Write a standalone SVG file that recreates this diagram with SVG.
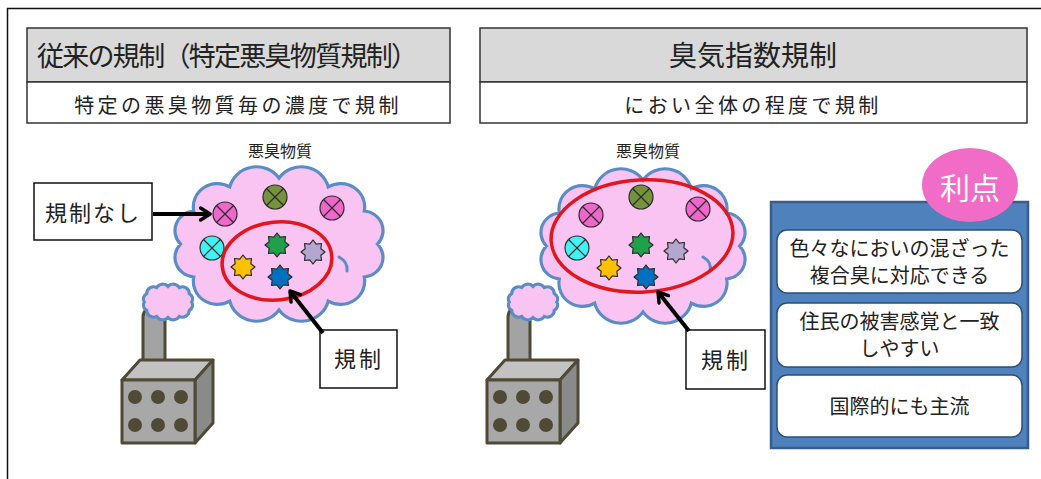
<svg xmlns="http://www.w3.org/2000/svg" xmlns:xlink="http://www.w3.org/1999/xlink" width="1041" height="479" viewBox="0 0 1041 479">
  <style>
    .jp { font-family: "Noto Sans CJK JP", "Noto Sans", sans-serif; fill: #222; }
    .frame { fill: none; stroke: #111; stroke-width: 1.5; }
    .hdr { fill: #d9d9d9; stroke: #333; stroke-width: 1.5; }
    .sub { fill: #fff; stroke: #333; stroke-width: 1.5; }
    .label { fill: #fff; stroke: #111; stroke-width: 1.5; }
    .cloud { fill: #f9c4f1; stroke: #5a8cc6; stroke-width: 3; }
    .stub { fill: none; stroke: #5a8cc6; stroke-width: 3; stroke-linecap: round; }
    .ring { fill: none; stroke: #e3151d; stroke-width: 3.5; }
    .arrow { fill: none; stroke: #000; stroke-width: 4; marker-end: url(#head); }
    .plant { stroke: #4f4a36; stroke-width: 3; stroke-linejoin: round; }
    .panel { fill: #4f81bd; stroke: #385d8a; stroke-width: 2.5; }
    .card { fill: #fff; stroke: #2f4f7a; stroke-width: 1.5; }
  </style>
  <defs>
    <marker id="head" viewBox="0 0 12 12" refX="9" refY="6" markerWidth="4" markerHeight="4" orient="auto" markerUnits="strokeWidth">
      <path d="M2,1.5 L9,6 L2,10.5" fill="none" stroke="#000" stroke-width="2.6" stroke-linecap="round" stroke-linejoin="round"/>
    </marker>
    <!-- scalloped cloud, centred on 0,0 -->
    <path id="cloudShape" d="M92,0 A19,19 0 0 1 79.7,32 A22.5,22.5 0 0 1 46,55.4 A25.7,25.7 0 0 1 0,64 A25.7,25.7 0 0 1 -46,55.4 A22.5,22.5 0 0 1 -79.7,32 A19,19 0 0 1 -92,0 A19,19 0 0 1 -79.7,-32 A22.5,22.5 0 0 1 -46,-55.4 A25.7,25.7 0 0 1 0,-64 A25.7,25.7 0 0 1 46,-55.4 A22.5,22.5 0 0 1 79.7,-32 A19,19 0 0 1 92,0 Z"/>
    <!-- small puff of smoke -->
    <path id="puff" d="M19,0 A5,5 0 0 1 17,7 A5.5,5.5 0 0 1 9,12 A5.5,5.5 0 0 1 0,13 A5.5,5.5 0 0 1 -9,12 A5.5,5.5 0 0 1 -17,7 A5,5 0 0 1 -19,0 A5,5 0 0 1 -17,-7 A5.5,5.5 0 0 1 -9,-12 A5.5,5.5 0 0 1 0,-13 A5.5,5.5 0 0 1 9,-12 A5.5,5.5 0 0 1 17,-7 A5,5 0 0 1 19,0 Z"/>
    <!-- odour molecule: circle with a cross -->
    <g id="xmol">
      <circle r="12" stroke="#2b2b2b" stroke-width="1.2"/>
      <path d="M-8.5,-8.5 L8.5,8.5 M-8.5,8.5 L8.5,-8.5" stroke="#2b2b2b" stroke-width="1.2"/>
    </g>
    <!-- specified odour substance: 8-point star -->
    <polygon id="star" points="0,-12 3.25,-7.85 8.49,-8.49 7.85,-3.25 12,0 7.85,3.25 8.49,8.49 3.25,7.85 0,12 -3.25,7.85 -8.49,8.49 -7.85,3.25 -12,0 -7.85,-3.25 -8.49,-8.49 -3.25,-7.85" stroke="#2b2b2b" stroke-width="1.2" stroke-linejoin="round"/>
    <!-- factory with chimney -->
    <g id="factory">
      <rect x="143" y="306" width="22" height="72" rx="11" fill="#a3a3a3" class="plant"/>
      <polygon points="122,380 140,360 213,360 195,380" fill="#c2c2c2" class="plant"/>
      <polygon points="195,380 213,360 213,423 195,443" fill="#8a8a8a" class="plant"/>
      <rect x="122" y="380" width="73" height="63" fill="#a8a8a8" class="plant"/>
      <g fill="#4f4a36">
        <circle cx="135" cy="397" r="7"/><circle cx="158" cy="397" r="7"/><circle cx="181" cy="397" r="7"/>
        <circle cx="135" cy="425" r="7"/><circle cx="158" cy="425" r="7"/><circle cx="181" cy="425" r="7"/>
      </g>
    </g>
  </defs>

  <rect x="7.5" y="8.5" width="1040" height="480" class="frame"/>

  <!-- left column: conventional regulation -->
  <g id="left-header">
    <rect x="27" y="28" width="423" height="54" class="hdr"/>
    <rect x="27" y="82" width="423" height="41" class="sub"/>
    <text x="37" y="66" class="jp" font-size="27" textLength="381" lengthAdjust="spacing">従来の規制（特定悪臭物質規制）</text>
    <text x="238" y="113" class="jp" font-size="20" text-anchor="middle" letter-spacing="3.4">特定の悪臭物質毎の濃度で規制</text>
  </g>

  <g id="left-factory">
    <use xlink:href="#factory"/>
    <use xlink:href="#puff" class="cloud" transform="translate(168,302) scale(1.25,1.2)" style="stroke-width:2.5"/>
  </g>

  <g id="left-cloud">
    <use xlink:href="#cloudShape" class="cloud" transform="translate(279,244) scale(1.07,1.03)"/>
    <path d="M339,257 Q348,262 347,271" class="stub"/>
    <text x="280" y="157" class="jp" font-size="16" text-anchor="middle">悪臭物質</text>
    <use xlink:href="#xmol" x="225" y="214" fill="#f067cb"/>
    <use xlink:href="#xmol" x="275" y="197" fill="#76923c"/>
    <use xlink:href="#xmol" x="332" y="208" fill="#f067cb"/>
    <use xlink:href="#xmol" x="212" y="248" fill="#3ff3f3"/>
    <use xlink:href="#star" x="277" y="245" fill="#1fa04a"/>
    <use xlink:href="#star" x="313" y="252" fill="#b3a6cf"/>
    <use xlink:href="#star" x="243" y="267" fill="#ffc000"/>
    <use xlink:href="#star" x="280" y="277" fill="#0070c0"/>
    <ellipse cx="277" cy="261" rx="55" ry="39" class="ring" transform="rotate(-6 277 261)"/>
  </g>

  <g id="left-none-label">
    <rect x="34" y="183" width="118" height="57" class="label"/>
    <text x="93" y="221" class="jp" font-size="22" text-anchor="middle" letter-spacing="2">規制なし</text>
  </g>

  <g id="left-reg-label">
    <rect x="320" y="330" width="77" height="58" class="label"/>
    <text x="359" y="367" class="jp" font-size="22" text-anchor="middle" letter-spacing="3">規制</text>
  </g>

  <!-- right column: odour index regulation -->
  <g id="right-header">
    <rect x="480" y="28" width="547" height="54" class="hdr"/>
    <rect x="480" y="82" width="547" height="41" class="sub"/>
    <text x="753" y="66" class="jp" font-size="28" text-anchor="middle">臭気指数規制</text>
    <text x="753" y="113" class="jp" font-size="20" text-anchor="middle" letter-spacing="3.4">におい全体の程度で規制</text>
  </g>

  <g id="right-factory">
    <use xlink:href="#factory" transform="translate(365,0)"/>
    <use xlink:href="#puff" class="cloud" transform="translate(533,302) scale(1.25,1.2)" style="stroke-width:2.5"/>
  </g>

  <g id="right-cloud">
    <use xlink:href="#cloudShape" class="cloud" transform="translate(643,246) scale(1.05,1.03)"/>
    <path d="M703,257 Q712,262 710,271" class="stub"/>
    <text x="648" y="157" class="jp" font-size="16" text-anchor="middle">悪臭物質</text>
    <use xlink:href="#xmol" x="591" y="215" fill="#f067cb"/>
    <use xlink:href="#xmol" x="641" y="197" fill="#76923c"/>
    <use xlink:href="#xmol" x="698" y="209" fill="#f067cb"/>
    <use xlink:href="#xmol" x="577" y="248" fill="#3ff3f3"/>
    <use xlink:href="#star" x="641" y="245" fill="#1fa04a"/>
    <use xlink:href="#star" x="676" y="251" fill="#b3a6cf"/>
    <use xlink:href="#star" x="609" y="268" fill="#ffc000"/>
    <use xlink:href="#star" x="646" y="277" fill="#0070c0"/>
    <ellipse cx="642" cy="236" rx="91" ry="56" class="ring" transform="rotate(-3 642 236)"/>
  </g>

  <g id="right-reg-label">
    <rect x="686" y="330" width="79" height="59" class="label"/>
    <text x="726" y="368" class="jp" font-size="22" text-anchor="middle" letter-spacing="3">規制</text>
  </g>

  <g id="advantages">
    <rect x="771" y="202" width="257" height="246" class="panel"/>
    <rect x="777" y="230" width="245" height="63" rx="10" class="card"/>
    <rect x="777" y="303" width="245" height="64" rx="10" class="card"/>
    <rect x="777" y="375" width="245" height="62" rx="10" class="card"/>
    <text x="899.5" y="256" class="jp" font-size="20" text-anchor="middle">色々なにおいの混ざった</text>
    <text x="899.5" y="283" class="jp" font-size="20" text-anchor="middle">複合臭に対応できる</text>
    <text x="899.5" y="329" class="jp" font-size="20" text-anchor="middle">住民の被害感覚と一致</text>
    <text x="899.5" y="356" class="jp" font-size="20" text-anchor="middle">しやすい</text>
    <text x="899.5" y="414" class="jp" font-size="20" text-anchor="middle">国際的にも主流</text>
  </g>

  <g id="advantages-badge">
    <ellipse cx="970" cy="185" rx="48" ry="37" fill="#f06cc6"/>
    <text x="970" y="199" class="jp" font-size="30" text-anchor="middle" style="fill:#fff">利点</text>
  </g>

  <g id="connectors">
    <line x1="153" y1="214" x2="210" y2="214" class="arrow"/>
    <line x1="323" y1="333" x2="290" y2="291" class="arrow"/>
    <line x1="689" y1="331" x2="658" y2="292" class="arrow"/>
  </g>
</svg>
